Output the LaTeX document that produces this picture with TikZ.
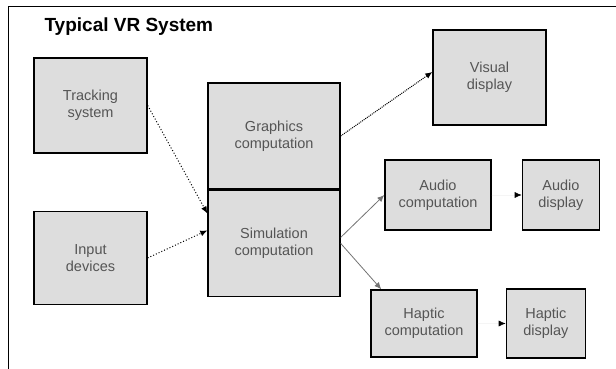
\documentclass[tikz,border=0pt]{standalone}
\usepackage{fontspec}
\setmainfont{Liberation Sans}
\usetikzlibrary{positioning,arrows.meta}

\definecolor{boxgray}{RGB}{221,221,221}
\definecolor{textgray}{RGB}{85,85,85}

\tikzset{
  block/.style={draw, line width=1.4pt, fill=boxgray, text=textgray, align=center,
    inner sep=0pt, font=\fontsize{14.5}{17}\selectfont},
  flow/.style={-{Latex[length=7pt,width=6pt]}, line width=1pt},
  faint/.style={-{Latex[length=7pt,width=6pt,black]}, draw=black!4, line width=0.6pt}
}

\begin{document}
\begin{tikzpicture}[x=1pt,y=-1pt]
\useasboundingbox (0,0) rectangle (616,369);
% frame
\draw[line width=0.8pt] (616,6) -- (8,6) -- (8,369);
\node[anchor=west, font=\fontsize{19}{21}\selectfont\bfseries] (title) at (41,27) {Typical VR System};

\node[block, minimum width=113pt, minimum height=95pt] (track) at (90.5,105.5) {Tracking\\system};
\node[block, minimum width=113pt, minimum height=93pt, below=57pt of track] (input) {Input\\devices};
\node[block, minimum width=132pt, minimum height=106pt] (graph) at (274,136) {Graphics\\computation};
\node[block, minimum width=132pt, minimum height=106pt, below=0pt of graph] (sim) {Simulation\\computation};
\node[block, minimum width=113pt, minimum height=95pt] (visual) at (489.5,77.5) {Visual\\display};
\node[block, minimum width=106pt, minimum height=70pt] (acomp) at (438,195) {Audio\\computation};
\node[block, minimum width=77pt, minimum height=70pt, right=30pt of acomp] (adisp) {Audio\\display};
\node[block, minimum width=106pt, minimum height=67pt] (hcomp) at (424,323.5) {Haptic\\computation};
\node[block, minimum width=79pt, minimum height=69pt, right=28pt of hcomp] (hdisp) {Haptic\\display};

\draw[flow, dotted] (track.east) -- ([yshift=30pt]sim.west);
\draw[flow, dotted] (input.east) -- ([yshift=13pt]sim.west);
\draw[flow, densely dotted] (graph.east) -- ([yshift=5.5pt]visual.west);
\draw[flow, draw=black!55, line width=0.8pt] ([yshift=6pt]sim.east) -- (acomp.west);
\draw[flow, draw=black!55, line width=0.8pt] (sim.east) -- ([xshift=11pt]hcomp.north west);
\draw[faint] (acomp.east) -- (adisp.west);
\draw[faint] (hcomp.east) -- (hdisp.west);
\end{tikzpicture}
\end{document}
